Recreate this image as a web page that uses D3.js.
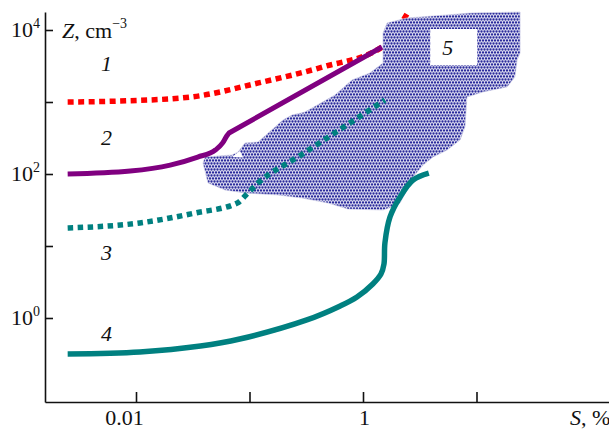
<!DOCTYPE html>
<html>
<head>
<meta charset="utf-8">
<script src="https://cdn.jsdelivr.net/npm/d3@7"></script>
<style>
  body { margin: 0; background: #fff; }
  text { font-family: "Liberation Serif", "DejaVu Serif", serif; fill: #111; }
</style>
</head>
<body>
<div id="chart"></div>
<script>
// curve data, [S %, Z cm^-3]
var curve1 = [[0.0025, 1000], [0.007, 1030], [0.03, 1170], [0.12, 1840], [0.44, 3060], [1.47, 5800], [1.9, 9000], [2.5, 17800]];
var curve2 = [[0.0025, 100], [0.0089, 110], [0.02, 133], [0.035, 172], [0.05, 215], [0.058, 270], [0.063, 337], [0.066, 371],
    [1.47, 5800]];
var curve3 = [[0.0025, 17.8], [0.0108, 20.9], [0.033, 28.7], [0.078, 39.5], [0.093, 51], [0.119, 75], [0.279, 180],
    [0.626, 415], [1.56, 1066]];
var curve4 = [[0.0025, 0.316], [0.0108, 0.337], [0.037, 0.408], [0.082, 0.511], [0.32, 0.94], [0.63, 1.47], [0.885, 1.96],
    [1.22, 2.97], [1.44, 4.08], [1.53, 5.6], [1.56, 11], [1.73, 25.3], [2.12, 48], [2.76, 82.5], [3.8, 103]];

// region 5 outline
var region5 = [[0.0389, 142], [0.0406, 172], [0.0702, 184], [0.0793, 202], [0.0912, 270], [0.119, 278], [0.197, 562],
    [0.237, 660], [0.308, 726], [0.566, 1250], [0.8, 2020], [1.15, 2530], [1.5, 3480], [1.5, 9090], [1.63, 12500],
    [2.44, 14700], [5.5, 16200], [8.77, 17200], [24.2, 17800], [24.2, 4800], [22.8, 3830], [21.8, 2220], [18.6, 1620],
    [11.4, 1380], [8.24, 1170], [7.92, 450], [7.16, 297], [5.5, 215], [4.14, 172], [3.38, 133], [2.76, 91], [2.44, 60],
    [2.12, 39.5], [1.91, 35.9], [1.5, 31.6], [0.738, 32.6], [0.492, 39.5], [0.29, 46.4], [0.178, 51.1], [0.0912, 54.5],
    [0.0608, 60], [0.0431, 75]];
var notch5 = [[0.0705, 172], [0.082, 208], [0.088, 170]];

var curveLabels = [["1", 0.0055, 3480], ["2", 0.0055, 326], ["3", 0.0055, 8.26], ["4", 0.0055, 0.62]];
var regionLabel = ["5", 6.3, 5800];

var xTicks = [0.01, 0.1, 1, 10];
var xTickLabels = ["0.01", "", "1", ""];
var yTicks = [1, 10, 100, 1000, 10000];
var yTickLabels = ["0", "", "2", "", "4"];

var width = 609, height = 430;
var mLeft = 45, mRight = 609, mTop = 12, mBottom = 402;

var svg = d3.select("#chart").append("svg")
    .attr("width", width)
    .attr("height", height);

// log scales, extended to the axis ends
var x0 = d3.scaleLog().domain([0.01, 1]).range([136, 363]);
var y0 = d3.scaleLog().domain([1, 10000]).range([318, 30]);
var x = d3.scaleLog().domain([x0.invert(mLeft), x0.invert(mRight)]).range([mLeft, mRight]);
var y = d3.scaleLog().domain([y0.invert(mBottom), y0.invert(mTop)]).range([mBottom, mTop]);

// dotted fill for region 5
var pat = svg.append("defs").append("pattern")
    .attr("id", "dots")
    .attr("patternUnits", "userSpaceOnUse")
    .attr("width", 3)
    .attr("height", 6);
pat.append("rect").attr("width", 3).attr("height", 6).attr("fill", "#dcdcf0");
pat.append("circle").attr("cx", 1.5).attr("cy", 1.5).attr("r", 1.15).attr("fill", "#2a2a9c");
pat.append("circle").attr("cx", 0).attr("cy", 4.5).attr("r", 1.15).attr("fill", "#2a2a9c");
pat.append("circle").attr("cx", 3).attr("cy", 4.5).attr("r", 1.15).attr("fill", "#2a2a9c");

var smooth = d3.line()
    .x(d => x(d[0]))
    .y(d => y(d[1]))
    .curve(d3.curveMonotoneX);

var straight = d3.line()
    .x(d => x(d[0]))
    .y(d => y(d[1]));

// curve 1 (under the region)
svg.append("path")
    .datum(curve1)
    .attr("fill", "none")
    .attr("stroke", "#ff0000")
    .attr("stroke-width", 5.5)
    .attr("stroke-dasharray", "6,4.5")
    .attr("d", smooth);

// region 5
svg.append("path")
    .datum(region5)
    .attr("fill", "url(#dots)")
    .attr("stroke", "#c8c8e4")
    .attr("stroke-width", 0.6)
    .attr("d", d3.line().x(d => x(d[0])).y(d => y(d[1])).curve(d3.curveLinearClosed));

svg.append("path")
    .datum(notch5)
    .attr("fill", "#fff")
    .attr("d", d3.line().x(d => x(d[0])).y(d => y(d[1])).curve(d3.curveLinearClosed));

// curve 2: smooth bend, then a straight run
var k = curve2.length - 2;
svg.append("path")
    .datum(curve2)
    .attr("fill", "none")
    .attr("stroke", "#800080")
    .attr("stroke-width", 5)
    .attr("stroke-linejoin", "round")
    .attr("d", d => smooth(d.slice(0, k + 1)) + straight(d.slice(k)).replace("M", "L"));

// curve 3
svg.append("path")
    .datum(curve3)
    .attr("fill", "none")
    .attr("stroke", "#008080")
    .attr("stroke-width", 5.5)
    .attr("stroke-dasharray", "5.5,4.5")
    .attr("d", smooth);

// curve 4
svg.append("path")
    .datum(curve4)
    .attr("fill", "none")
    .attr("stroke", "#008080")
    .attr("stroke-width", 5.5)
    .attr("d", d3.line().x(d => x(d[0])).y(d => y(d[1])).curve(d3.curveCatmullRom.alpha(0.5)));

// label box for region 5
svg.append("rect")
    .attr("x", x(regionLabel[1]) - 23.5)
    .attr("y", y(regionLabel[2]) - 18)
    .attr("width", 47)
    .attr("height", 36)
    .attr("fill", "#fff");
svg.append("text")
    .attr("x", x(regionLabel[1]) - 6)
    .attr("y", y(regionLabel[2]) + 8)
    .attr("text-anchor", "middle")
    .style("font-size", "22px")
    .style("font-style", "italic")
    .text(regionLabel[0]);

// curve numbers
svg.selectAll(".clabel")
    .data(curveLabels)
    .enter().append("text")
    .attr("class", "clabel")
    .attr("x", d => x(d[1]))
    .attr("y", d => y(d[2]) + 8)
    .attr("text-anchor", "middle")
    .style("font-size", "22px")
    .style("font-style", "italic")
    .text(d => d[0]);

// x axis, ticks pointing up
var xAxis = svg.append("g")
    .attr("transform", "translate(0," + mBottom + ")")
    .call(d3.axisBottom(x)
        .tickValues(xTicks)
        .tickSizeInner(-10)
        .tickSizeOuter(0)
        .tickFormat((d, i) => xTickLabels[i]));
xAxis.select(".domain").attr("stroke", "#111").attr("stroke-width", 1.6);
xAxis.selectAll(".tick line").attr("stroke", "#111").attr("stroke-width", 1.6);
xAxis.selectAll(".tick text")
    .attr("y", 23)
    .attr("dy", 0)
    .attr("dx", (d, i) => i == 0 ? -12 : 1)
    .attr("fill", "#111")
    .style("font-family", "Liberation Serif, serif")
    .style("font-size", "22px");

// y axis, ticks pointing right
var yAxis = svg.append("g")
    .attr("transform", "translate(" + mLeft + ",0)")
    .call(d3.axisLeft(y)
        .tickValues(yTicks)
        .tickSizeInner(-8)
        .tickSizeOuter(0)
        .tickFormat(""));
yAxis.select(".domain").attr("stroke", "#111").attr("stroke-width", 1.6);
yAxis.selectAll(".tick line").attr("stroke", "#111").attr("stroke-width", 1.6);

// y tick labels as 10 with superscript
var yl = svg.selectAll(".ylabel")
    .data(yTicks.filter((d, i) => yTickLabels[i] !== ""))
    .enter().append("text")
    .attr("class", "ylabel")
    .attr("x", 40)
    .attr("y", d => y(d) + 7)
    .attr("text-anchor", "end")
    .style("font-size", "22px");
yl.append("tspan").text("10");
yl.append("tspan")
    .attr("dy", -9)
    .style("font-size", "14px")
    .text(d => yTickLabels[yTicks.indexOf(d)]);

// axis titles
var zt = svg.append("text")
    .attr("x", 62)
    .attr("y", 38)
    .style("font-size", "22px");
zt.append("tspan").style("font-style", "italic").text("Z");
zt.append("tspan").text(", cm");
zt.append("tspan").attr("dy", -10).style("font-size", "14px").text("\u22123");

var st = svg.append("text")
    .attr("x", 570)
    .attr("y", 425)
    .style("font-size", "22px");
st.append("tspan").style("font-style", "italic").text("S");
st.append("tspan").text(", %");
</script>
</body>
</html>
